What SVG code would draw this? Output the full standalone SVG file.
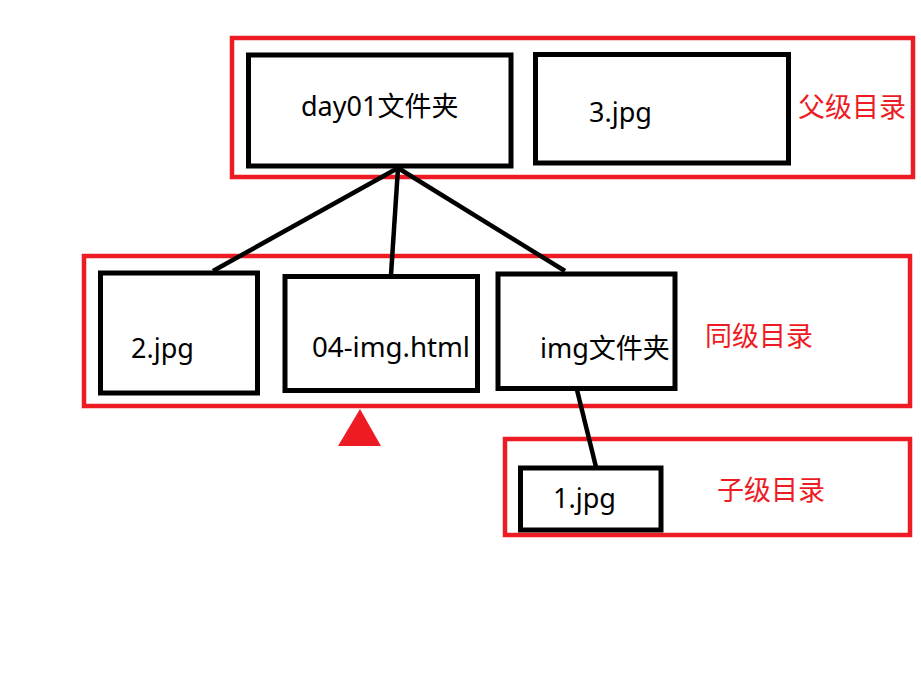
<svg xmlns="http://www.w3.org/2000/svg" width="921" height="685" viewBox="0 0 921 685">
<style>
.grp{fill:none;stroke:#ed1c24;stroke-width:4.5}
.box{fill:#fff;stroke:#000;stroke-width:5}
.lbl{font-family:"Noto Sans","Noto Sans CJK SC",sans-serif;font-size:27px;fill:#000}
.glbl{font-family:"Noto Sans CJK SC",sans-serif;font-size:27px;fill:#ed1c24}
.edge{stroke:#000;stroke-width:4.5;fill:none}
</style>
<rect width="921" height="685" fill="#fff"/>
<g id="group-parent">
<rect class="grp" x="232" y="38" width="681" height="139"/>
<text class="glbl" x="798" y="117">父级目录</text>
</g>
<g id="group-sibling">
<rect class="grp" x="84" y="256" width="826" height="150"/>
<text class="glbl" x="705" y="346">同级目录</text>
</g>
<g id="group-child">
<rect class="grp" x="505" y="439" width="405" height="96"/>
<text class="glbl" x="717" y="500">子级目录</text>
</g>
<g id="connectors">
<line class="edge" x1="398" y1="168" x2="213" y2="271"/>
<line class="edge" x1="398" y1="168" x2="391" y2="275"/>
<line class="edge" x1="398" y1="168" x2="565" y2="271"/>
<line class="edge" x1="577" y1="390" x2="596" y2="467"/>
</g>
<g id="day01">
<rect class="box" x="248.5" y="55" width="262.5" height="111"/>
<text class="lbl" x="301" y="116">day01文件夹</text>
</g>
<g id="jpg3">
<rect class="box" x="535.5" y="54.5" width="253" height="108.5"/>
<text class="lbl" x="589" y="122">3.jpg</text>
</g>
<g id="jpg2">
<rect class="box" x="100.5" y="273" width="157" height="120"/>
<text class="lbl" x="131" y="358">2.jpg</text>
</g>
<g id="html04">
<rect class="box" x="285" y="276.5" width="192.5" height="114"/>
<text class="lbl" x="312" y="357" textLength="158" lengthAdjust="spacingAndGlyphs">04-img.html</text>
</g>
<g id="imgfolder">
<rect class="box" x="498" y="274" width="177" height="114.5"/>
<text class="lbl" x="540" y="358">img文件夹</text>
</g>
<g id="jpg1">
<rect class="box" x="520.5" y="468" width="140.5" height="62"/>
<text class="lbl" x="553" y="508">1.jpg</text>
</g>
<g id="marker">
<polygon points="360,409 381,446 338,446" fill="#ed1c24"/>
</g>
</svg>
